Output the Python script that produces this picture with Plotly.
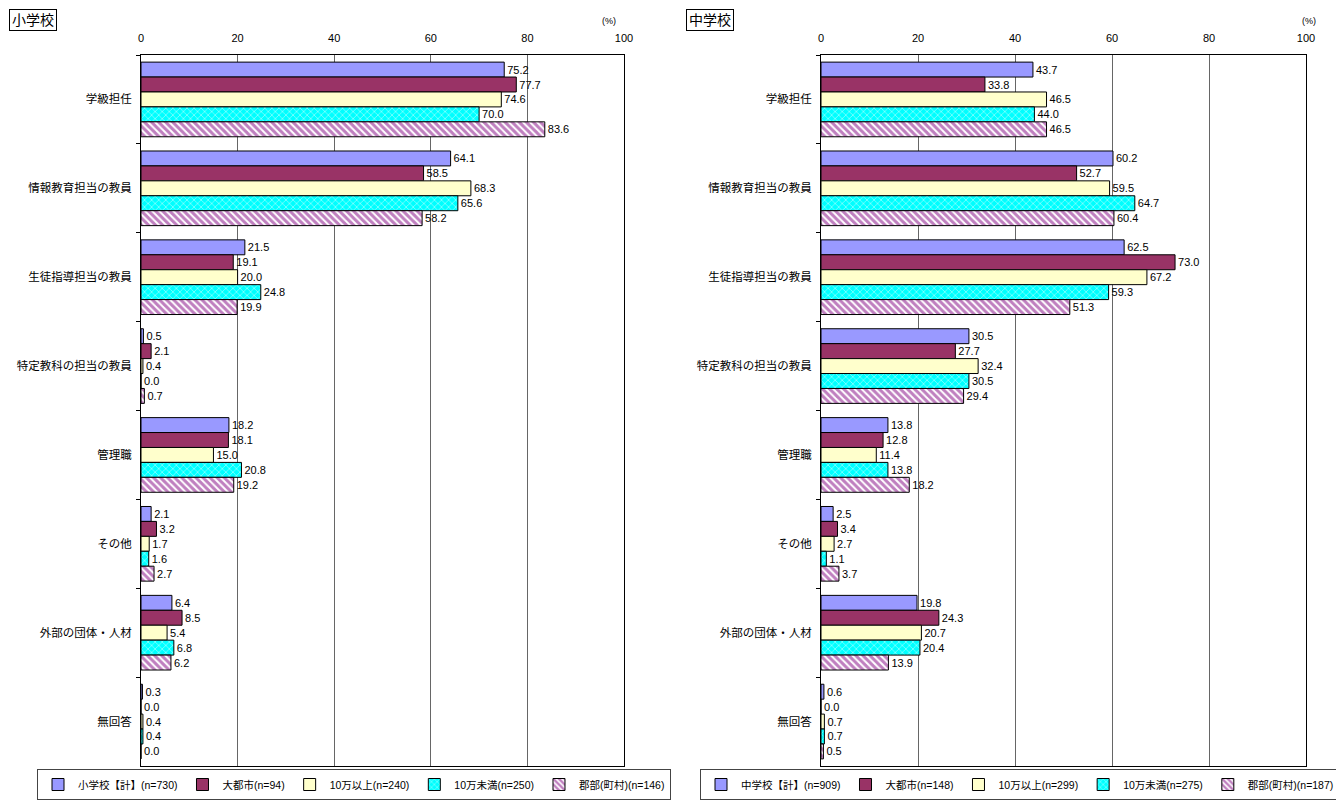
import plotly.graph_objects as go

categories = ["学級担任", "情報教育担当の教員", "生徒指導担当の教員", "特定教科の担当の教員",
              "管理職", "その他", "外部の団体・人材", "無回答"]

# 小学校
es_names = ["小学校【計】(n=730)", "大都市(n=94)", "10万以上(n=240)", "10万未満(n=250)", "郡部(町村)(n=146)"]
es_total = [75.2, 64.1, 21.5, 0.5, 18.2, 2.1, 6.4, 0.3]
es_city = [77.7, 58.5, 19.1, 2.1, 18.1, 3.2, 8.5, 0.0]
es_over10 = [74.6, 68.3, 20.0, 0.4, 15.0, 1.7, 5.4, 0.4]
es_under10 = [70.0, 65.6, 24.8, 0.0, 20.8, 1.6, 6.8, 0.4]
es_rural = [83.6, 58.2, 19.9, 0.7, 19.2, 2.7, 6.2, 0.0]

# 中学校
js_names = ["中学校【計】(n=909)", "大都市(n=148)", "10万以上(n=299)", "10万未満(n=275)", "郡部(町村)(n=187)"]
js_total = [43.7, 60.2, 62.5, 30.5, 13.8, 2.5, 19.8, 0.6]
js_city = [33.8, 52.7, 73.0, 27.7, 12.8, 3.4, 24.3, 0.0]
js_over10 = [46.5, 59.5, 67.2, 32.4, 11.4, 2.7, 20.7, 0.7]
js_under10 = [44.0, 64.7, 59.3, 30.5, 13.8, 1.1, 20.4, 0.7]
js_rural = [46.5, 60.4, 51.3, 29.4, 18.2, 3.7, 13.9, 0.5]

FONT = "Arial, 'Liberation Sans', 'Noto Sans CJK JP', sans-serif"

# the page body has an 8px margin, so the figure is drawn 8px smaller
W, H, OFF = 1336, 799, 8


def px(x):
    return (x - OFF) / W


def py(y):
    return 1 - (y - OFF) / H


styles = [
    dict(color="#9999FF"),
    dict(color="#993366"),
    dict(color="#FFFFCC"),
    dict(color="#00FFFF", pattern=dict(shape="x", fgcolor="white", bgcolor="#00FFFF",
                                       size=5, solidity=0.3)),
    dict(color="white", pattern=dict(shape="\\", fgcolor="#7F007F", bgcolor="white",
                                     size=5, solidity=0.6)),
]

fig = go.Figure()


def add_group(names, series, xa, ya, legend):
    for name, vals, st in zip(names, series, styles):
        fig.add_trace(go.Bar(
            y=categories, x=vals, name=name, orientation="h",
            xaxis=xa, yaxis=ya, legend=legend,
            marker=dict(line=dict(color="black", width=1), **st),
            texttemplate="%{x:.1f}", textposition="outside",
            textfont=dict(size=11, color="black", family=FONT),
            cliponaxis=False,
        ))


add_group(es_names, [es_total, es_city, es_over10, es_under10, es_rural], "x", "y", "legend")
add_group(js_names, [js_total, js_city, js_over10, js_under10, js_rural], "x2", "y2", "legend2")

xcommon = dict(range=[0, 100], dtick=20, side="top", showgrid=True, gridcolor="#666666",
               gridwidth=1, showline=True, linecolor="black", linewidth=1, mirror=True,
               ticks="", ticklabelstandoff=8, automargin=False,
               tickfont=dict(size=11, family=FONT, color="black"),
               zeroline=False, fixedrange=True)
ycommon = dict(autorange="reversed", showline=True, linecolor="black", linewidth=1, mirror=True,
               ticks="outside", ticklen=4, tickcolor="black", tickson="boundaries",
               ticklabelstandoff=6, automargin=False,
               tickfont=dict(size=11.5, family=FONT, color="black"), showgrid=False)

ydom = [py(766), py(55)]
legend_common = dict(orientation="h", y=py(769), yanchor="top",
                     bordercolor="#444444", borderwidth=1,
                     font=dict(size=10.5, family=FONT), itemwidth=30, tracegroupgap=0)

fig.update_layout(
    width=W, height=H,
    margin=dict(l=0, r=0, t=0, b=0),
    paper_bgcolor="white", plot_bgcolor="white",
    barmode="group", bargap=0.16, bargroupgap=0,
    font=dict(family=FONT, color="black"),
    xaxis=dict(domain=[px(141), px(624)], anchor="y", **xcommon),
    yaxis=dict(domain=ydom, anchor="x", **ycommon),
    xaxis2=dict(domain=[px(821), px(1306)], anchor="y2", **xcommon),
    yaxis2=dict(domain=ydom, anchor="x2", **ycommon),
    legend=dict(x=px(37), xanchor="left", **legend_common),
    legend2=dict(x=px(1340), xanchor="right", **legend_common),
    showlegend=True,
    annotations=[
        dict(text="小学校", x=px(9), y=py(9), xref="paper", yref="paper",
             xanchor="left", yanchor="top", showarrow=False, font=dict(size=14, family=FONT),
             bordercolor="black", borderwidth=1, borderpad=2),
        dict(text="中学校", x=px(686), y=py(9), xref="paper", yref="paper",
             xanchor="left", yanchor="top", showarrow=False, font=dict(size=14, family=FONT),
             bordercolor="black", borderwidth=1, borderpad=2),
        dict(text="(%)", x=px(609), y=py(14), xref="paper", yref="paper",
             showarrow=False, font=dict(size=9, family=FONT)),
        dict(text="(%)", x=px(1318), y=py(14), xref="paper", yref="paper",
             showarrow=False, font=dict(size=9, family=FONT)),
    ],
)

fig.write_html("out.html")
